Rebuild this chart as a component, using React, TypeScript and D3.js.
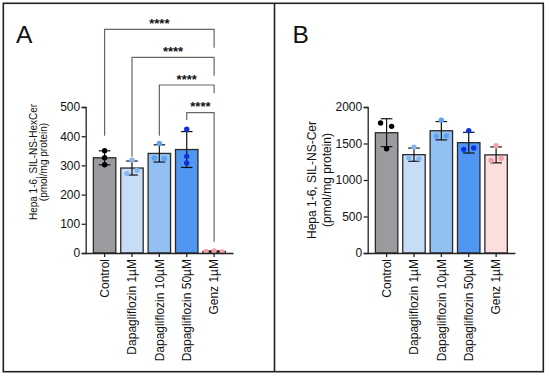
import React, { useEffect, useRef } from "react";
import * as d3 from "d3";

// groups + replicate values
const groups = ["Control", "Dapagliflozin 1µM", "Dapagliflozin 10µM", "Dapagliflozin 50µM", "Genz 1µM"];
const hexCerPoints = [[350, 326, 302], [318, 272, 283], [375, 325, 323], [424, 331, 308], [5, 7, 4]];
const cerPoints = [[1780, 1735, 1428], [1451, 1300, 1290], [1820, 1600, 1605], [1675, 1420, 1440], [1469, 1268, 1295]];
const hexCerTicks = [0, 100, 200, 300, 400, 500];
const cerTicks = [0, 500, 1000, 1500, 2000];
// comparisons vs Genz (index 4) in panel A
const comparisons = [
  { from: 0, to: 4, label: "****" },
  { from: 1, to: 4, label: "****" },
  { from: 2, to: 4, label: "****" },
  { from: 3, to: 4, label: "****" },
];

const barFill = ["#9b9b9f", "#c6dcf7", "#93c0f3", "#4f97f2", "#fcdede"];
const dotFill = ["#000000", "#86b6ee", "#5ea3f0", "#1030dd", "#f2a0a8"];

// horizontal scatter of the replicate dots (px), per group
const jitterA = [[0, 0, 0], [0, -5, 5], [0, -5, 5], [0, 0, 0], [-8, 0, 8]];
const jitterB = [[-6, 5, 0], [0, -5, 5], [0, -5, 5], [0, -5, 5], [0, -5, 5]];

export default function App() {
  const ref = useRef<SVGSVGElement>(null);

  useEffect(() => {
    const svg = d3.select(ref.current);
    svg.selectAll("*").remove();
    const font = "Arial, 'Liberation Sans', sans-serif";

    // frame + divider
    svg.append("rect").attr("x", 3.3).attr("y", 3.3).attr("width", 540).attr("height", 368.4)
      .attr("fill", "none").attr("stroke", "#222").attr("stroke-width", 1.6);
    svg.append("line").attr("x1", 274.5).attr("x2", 274.5).attr("y1", 3.3).attr("y2", 371.7)
      .attr("stroke", "#222").attr("stroke-width", 1.6);

    const top = 107, bottom = 253;

    function panel(x0: number, points: number[][], jitter: number[][], ticks: number[], max: number, letter: string,
      titleLines: string[], titleX: number[], titleY: number, titleSize: number) {
      const g = svg.append("g");
      const x = d3.scaleBand<string>().domain(groups).range([x0, x0 + 147.3]).paddingInner(0.18).paddingOuter(0.28);
      const y = d3.scaleLinear().domain([0, max]).range([bottom, top]);

      const stats = points.map((p) => ({ mean: d3.mean(p) as number, sd: d3.deviation(p) as number }));

      // bars
      g.selectAll(".bar").data(groups).enter().append("rect")
        .attr("x", (d) => x(d) as number)
        .attr("width", x.bandwidth())
        .attr("y", (d, i) => y(stats[i].mean))
        .attr("height", (d, i) => bottom - y(stats[i].mean))
        .attr("fill", (d, i) => barFill[i])
        .attr("stroke", "#2a2a2a").attr("stroke-width", 1.3);

      // error bars (mean +/- SD) and dots
      groups.forEach((d, i) => {
        const cx = (x(d) as number) + x.bandwidth() / 2;
        const lo = y(stats[i].mean - stats[i].sd), hi = y(stats[i].mean + stats[i].sd);
        const eg = g.append("g").attr("stroke", "#111").attr("stroke-width", 1.2);
        eg.append("line").attr("x1", cx).attr("x2", cx).attr("y1", lo).attr("y2", hi);
        eg.append("line").attr("x1", cx - 5.8).attr("x2", cx + 5.8).attr("y1", lo).attr("y2", lo);
        eg.append("line").attr("x1", cx - 5.8).attr("x2", cx + 5.8).attr("y1", hi).attr("y2", hi);
        points[i].forEach((v, j) => {
          g.append("circle").attr("cx", cx + jitter[i][j]).attr("cy", y(v)).attr("r", 2.7)
            .attr("fill", dotFill[i]);
        });
      });

      // y axis
      const ya = g.append("g").attr("transform", `translate(${x0},0)`)
        .call(d3.axisLeft(y).tickValues(ticks).tickFormat(d3.format("d")).tickSize(4).tickPadding(1.5));
      ya.select(".domain").attr("stroke", "#222").attr("stroke-width", 1.3);
      ya.selectAll(".tick line").attr("stroke", "#222").attr("stroke-width", 1.3);
      ya.selectAll("text").attr("font-family", font).attr("font-size", 12).attr("fill", "#111");

      // x axis
      const xa = g.append("g").attr("transform", `translate(0,${bottom})`)
        .call(d3.axisBottom(x).tickSize(4).tickSizeOuter(0).tickPadding(2));
      xa.select(".domain").attr("stroke", "#222").attr("stroke-width", 1.3);
      xa.selectAll(".tick line").attr("stroke", "#222").attr("stroke-width", 1.3);
      xa.selectAll("text")
        .attr("font-family", font).attr("font-size", 12).attr("fill", "#111")
        .attr("transform", "rotate(-90)")
        .attr("text-anchor", "end")
        .attr("x", -6).attr("y", 0).attr("dy", "0.35em");

      // y title, two lines
      titleLines.forEach((s, i) => {
        g.append("text").attr("font-family", font).attr("font-size", titleSize).attr("fill", "#111")
          .attr("text-anchor", "middle")
          .attr("transform", `translate(${titleX[i]},${titleY}) rotate(-90)`)
          .text(s);
      });

      g.append("text").attr("x", letter === "A" ? 16 : 292.5).attr("y", 43.3)
        .attr("font-family", font).attr("font-size", 24.5).attr("fill", "#111").text(letter);

      return { x, y };
    }

    const a = panel(85.7, hexCerPoints, jitterA, hexCerTicks, 500, "A",
      ["Hepa 1-6, SIL-NS-HexCer", "(pmol/mg protein)"], [36.5, 46.5], 162, 10);
    panel(367.7, cerPoints, jitterB, cerTicks, 2000, "B",
      ["Hepa 1-6, SIL-NS-Cer", "(pmol/mg protein)"], [315.5, 330.5], 180, 12);

    // significance brackets (panel A)
    const levels = [29.3, 57.3, 85, 112.7];
    const leftEnd = [135.7, 156.7, 135.7, 120];
    const rightEnd = [47.7, 75.7, 93.3, 241.7];
    const cxOf = (i: number) => (a.x(groups[i]) as number) + a.x.bandwidth() / 2;
    comparisons.forEach((c, k) => {
      const x1 = cxOf(c.from), x2 = cxOf(c.to);
      svg.append("path")
        .attr("d", `M${x1},${leftEnd[k]}V${levels[k]}H${x2}V${rightEnd[k]}`)
        .attr("fill", "none").attr("stroke", "#666").attr("stroke-width", 1.2);
      svg.append("text").attr("x", (x1 + x2) / 2).attr("y", levels[k] - 1.5)
        .attr("text-anchor", "middle").attr("font-family", font).attr("font-weight", "bold")
        .attr("font-size", 13).attr("fill", "#111").text(c.label);
    });
  }, []);

  return (
    <svg ref={ref} width={550} height={377}
      style={{ position: "absolute", left: 0, top: 0, background: "#fff" }} />
  );
}
